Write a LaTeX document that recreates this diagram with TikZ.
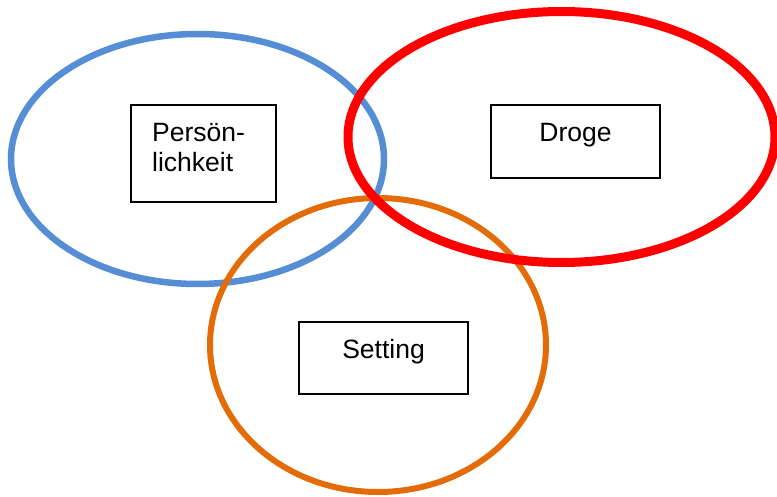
\documentclass[tikz,border=0pt]{standalone}
\usepackage{fontspec}
\setmainfont{Liberation Sans}
\definecolor{cblue}{HTML}{558ED5}
\definecolor{cred}{HTML}{FF0000}
\definecolor{corange}{HTML}{E36C09}
\tikzset{
  ring/.style={line width=#1},
  box/.style={draw=black, line width=2pt, rectangle, inner sep=0pt},
  lbl/.style={font=\fontsize{26.5}{30}\selectfont, inner sep=0pt, align=left},
}
\begin{document}
\begin{tikzpicture}[x=1pt,y=-1pt]
\useasboundingbox (0,0) rectangle (777,497);
% circles
\draw[cblue, ring=6.5pt] (197.5,159) ellipse [x radius=186.5, y radius=125];
\draw[corange, ring=6pt] (378,345) ellipse [x radius=168, y radius=147];
\draw[cred, ring=9pt] (561.5,137) ellipse [x radius=213.5, y radius=125.5];
% boxes
\node[box, minimum width=145pt, minimum height=97pt] (pbox) at (203.5,153.5) {};
\node[box, minimum width=169pt, minimum height=73pt] (dbox) at (575.5,141.5) {};
\node[box, minimum width=169pt, minimum height=72pt] (sbox) at (383.5,358) {};
% labels
\node[lbl, anchor=base west] (ptext) at (152,172) {Persön-\\lichkeit};
\node[lbl, anchor=base] (dtext) at (575.5,142) {Droge};
\node[lbl, anchor=base] (stext) at (383.5,358) {Setting};
\end{tikzpicture}
\end{document}
